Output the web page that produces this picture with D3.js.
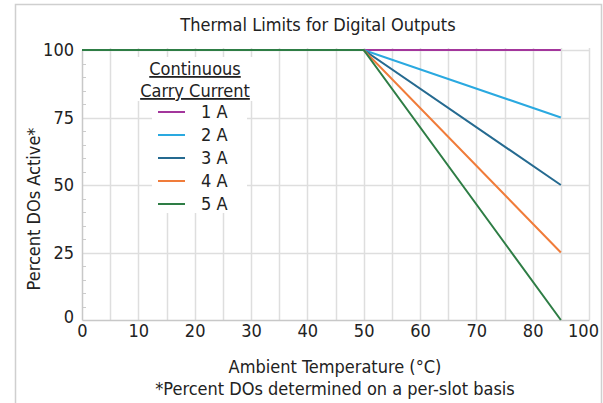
<!DOCTYPE html>
<html>
<head>
<meta charset="utf-8">
<script src="https://cdn.jsdelivr.net/npm/d3@7"></script>
<style>
  body { margin: 0; background: #fff; }
  text { font-family: 'DejaVu Sans Condensed', 'DejaVu Sans', sans-serif; fill: #222; }
</style>
</head>
<body>
<div id="chart"></div>
<script>
// data
const seriesNames = ['1 A', '2 A', '3 A', '4 A', '5 A'];
const seriesColors = ['#a3369c', '#2aa9e0', '#256a90', '#f07c3a', '#2e7d45'];
const temps = [0, 50, 85];
const pct1A = [100, 100, 100];
const pct2A = [100, 100, 75];
const pct3A = [100, 100, 50];
const pct4A = [100, 100, 25];
const pct5A = [100, 100, 0];
const xTickValues = [0, 10, 20, 30, 40, 50, 60, 70, 80, 90];
const xTickLabels = ['0', '10', '20', '30', '40', '50', '60', '70', '80', '100'];
const yTickValues = [0, 25, 50, 75, 100];

const series = [pct1A, pct2A, pct3A, pct4A, pct5A].map((vals, i) => ({
  name: seriesNames[i],
  color: seriesColors[i],
  points: temps.map((t, j) => ({ x: t, y: vals[j] }))
}));

const width = 603;
const height = 403;
const margin = { top: 50, right: 14, bottom: 83, left: 82 };
const fontSize = '18px';

const svg = d3.select('#chart')
  .append('svg')
  .attr('width', width)
  .attr('height', height);

// outer frame
svg.append('rect')
  .attr('x', 15.5)
  .attr('y', 4.5)
  .attr('width', 586)
  .attr('height', 420)
  .attr('fill', 'none')
  .attr('stroke', '#cfcfcf')
  .attr('stroke-width', 1.5);

const x = d3.scaleLinear()
  .domain([0, 90])
  .range([margin.left, width - margin.right]);

const y = d3.scaleLinear()
  .domain([0, 100])
  .range([height - margin.bottom, margin.top]);

const grid = svg.append('g').attr('class', 'grid');

// vertical grid every 5 degrees
grid.selectAll('line.v')
  .data(d3.range(5, 95, 5))
  .enter()
  .append('line')
  .attr('class', 'v')
  .attr('x1', d => Math.round(x(d)) + 0.5)
  .attr('x2', d => Math.round(x(d)) + 0.5)
  .attr('y1', y(100) - 2)
  .attr('y2', y(0))
  .attr('stroke', '#dedede')
  .attr('stroke-width', 1.5);

// horizontal grid on major ticks
grid.selectAll('line.h')
  .data(yTickValues.slice(1))
  .enter()
  .append('line')
  .attr('class', 'h')
  .attr('x1', x(0))
  .attr('x2', x(90))
  .attr('y1', d => Math.round(y(d)) + 0.5)
  .attr('y2', d => Math.round(y(d)) + 0.5)
  .attr('stroke', '#dedede')
  .attr('stroke-width', 1.5);

// minor y ticks
grid.selectAll('line.minor')
  .data(d3.range(5, 100, 5).filter(d => d % 25 !== 0))
  .enter()
  .append('line')
  .attr('x1', x(0))
  .attr('x2', x(0) + 4)
  .attr('y1', d => Math.round(y(d)) + 0.5)
  .attr('y2', d => Math.round(y(d)) + 0.5)
  .attr('stroke', '#cccccc');

// axes
const xAxis = svg.append('g')
  .attr('transform', `translate(0,${y(0)})`)
  .call(d3.axisBottom(x)
    .tickValues(xTickValues)
    .tickFormat((d, i) => xTickLabels[i])
    .tickSize(0)
    .tickPadding(4));

const yAxis = svg.append('g')
  .attr('transform', `translate(${x(0)},0)`)
  .call(d3.axisLeft(y)
    .tickValues(yTickValues)
    .tickSize(0)
    .tickPadding(8));

[xAxis, yAxis].forEach(ax => {
  ax.select('.domain').attr('stroke', '#c8c8c8').attr('stroke-width', 1.5);
  ax.selectAll('text')
    .style('font-family', "'DejaVu Sans Condensed', 'DejaVu Sans', sans-serif")
    .style('font-size', fontSize)
    .attr('fill', '#222');
});
yAxis.selectAll('.tick')
  .filter(d => d === 0)
  .select('text')
  .attr('dy', '0.15em');
// last x label sits a little to the left, inside the frame
xAxis.selectAll('.tick')
  .filter(d => d === 90)
  .select('text')
  .attr('dx', -6);

// legend background
const legend = svg.append('g').attr('class', 'legend');

legend.append('rect')
  .attr('x', 134)
  .attr('y', 57)
  .attr('width', 122)
  .attr('height', 44)
  .attr('fill', '#fff');

legend.append('rect')
  .attr('x', 152)
  .attr('y', 100)
  .attr('width', 95)
  .attr('height', 113)
  .attr('fill', '#fff');

// series lines
const line = d3.line()
  .x(d => x(d.x))
  .y(d => y(d.y));

svg.append('g')
  .selectAll('path')
  .data(series)
  .enter()
  .append('path')
  .attr('d', d => line(d.points))
  .attr('fill', 'none')
  .attr('stroke', d => d.color)
  .attr('stroke-width', 2);

// legend title
['Continuous', 'Carry Current'].forEach((t, i) => {
  legend.append('text')
    .attr('x', 195)
    .attr('y', 75 + i * 22)
    .attr('text-anchor', 'middle')
    .style('font-size', fontSize)
    .style('text-decoration', 'underline')
    .text(t);
});

const items = legend.selectAll('g.item')
  .data(series)
  .enter()
  .append('g')
  .attr('class', 'item')
  .attr('transform', (d, i) => `translate(0,${112 + i * 23})`);

items.append('line')
  .attr('x1', 158)
  .attr('x2', 185)
  .attr('stroke', d => d.color)
  .attr('stroke-width', 2);

items.append('text')
  .attr('x', 201)
  .attr('dy', '0.35em')
  .style('font-size', fontSize)
  .text(d => d.name);

// titles
svg.append('text')
  .attr('x', 318)
  .attr('y', 31)
  .attr('text-anchor', 'middle')
  .style('font-size', fontSize)
  .text('Thermal Limits for Digital Outputs');

svg.append('text')
  .attr('x', 335)
  .attr('y', 373)
  .attr('text-anchor', 'middle')
  .style('font-size', fontSize)
  .text('Ambient Temperature (°C)');

svg.append('text')
  .attr('x', 335)
  .attr('y', 395)
  .attr('text-anchor', 'middle')
  .style('font-size', fontSize)
  .text('*Percent DOs determined on a per-slot basis');

svg.append('text')
  .attr('transform', 'translate(40,209) rotate(-90)')
  .attr('text-anchor', 'middle')
  .style('font-size', fontSize)
  .text('Percent DOs Active*');
</script>
</body>
</html>
